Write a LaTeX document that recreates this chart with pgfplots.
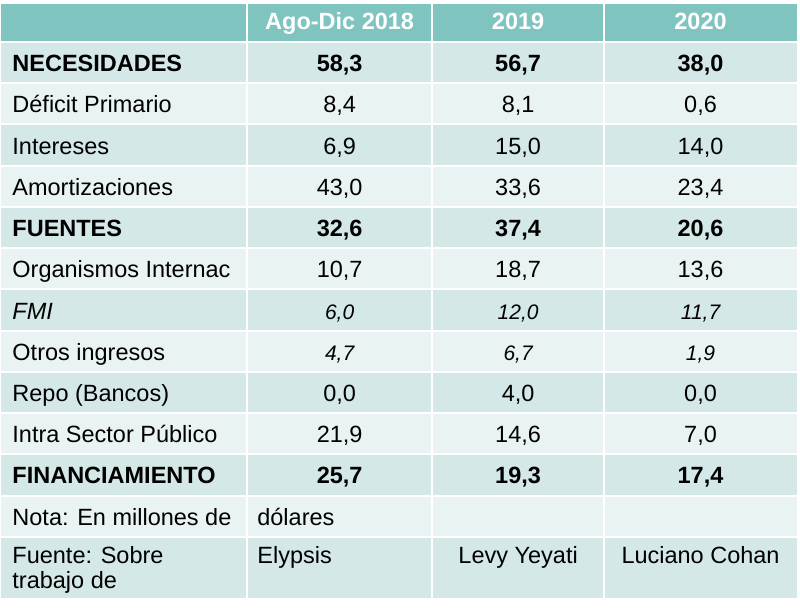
\documentclass[border=0pt]{standalone}
\usepackage{fontspec}
\setmainfont{Liberation Sans}
\usepackage{pgfplots}
\pgfplotsset{compat=1.18}
\definecolor{hdr}{RGB}{128,196,192}
\definecolor{dk}{RGB}{211,232,231}
\definecolor{lt}{RGB}{234,243,243}
\newcommand\fs{\fontsize{23.5bp}{21bp}\selectfont}
\newcommand\fsi{\fontsize{21bp}{21bp}\selectfont\itshape}
\pgfplotsset{
 txt/.style={only marks, mark=none, point meta=explicit symbolic, nodes near coords,
   nodes near coords style={anchor=base west, inner sep=0pt, font=#1, text=black}},
 num/.style={only marks, mark=none, point meta=explicit,
   nodes near coords={\pgfmathprintnumber[fixed,fixed zerofill,precision=1,use comma,assume math mode=true]{\pgfplotspointmeta}},
   nodes near coords style={anchor=base, inner sep=0pt, font=#1, text=black}},
}
\begin{document}
\begin{tikzpicture}
\begin{axis}[x=1bp, y=1bp, y dir=reverse, xmin=0, xmax=800, ymin=0, ymax=611,
  hide axis, clip=false]
% background
\fill[white] (axis cs:0,0) rectangle (axis cs:800,611);
\fill[hdr] (axis cs:1,4) rectangle (axis cs:797,42);
\fill[dk] (axis cs:1,42) rectangle (axis cs:797,83.25);
\fill[lt] (axis cs:1,83.25) rectangle (axis cs:797,124.5);
\fill[dk] (axis cs:1,124.5) rectangle (axis cs:797,165.75);
\fill[lt] (axis cs:1,165.75) rectangle (axis cs:797,207);
\fill[dk] (axis cs:1,207) rectangle (axis cs:797,248.25);
\fill[lt] (axis cs:1,248.25) rectangle (axis cs:797,289.5);
\fill[dk] (axis cs:1,289.5) rectangle (axis cs:797,330.75);
\fill[lt] (axis cs:1,330.75) rectangle (axis cs:797,372);
\fill[dk] (axis cs:1,372) rectangle (axis cs:797,413.25);
\fill[lt] (axis cs:1,413.25) rectangle (axis cs:797,454.5);
\fill[dk] (axis cs:1,454.5) rectangle (axis cs:797,495.75);
\fill[lt] (axis cs:1,495.75) rectangle (axis cs:797,537);
\fill[dk] (axis cs:1,537) rectangle (axis cs:797,598);
% white grid lines
\draw[white, line width=2bp] (axis cs:247,4) -- (axis cs:247,598);
\draw[white, line width=2bp] (axis cs:432,4) -- (axis cs:432,598);
\draw[white, line width=2bp] (axis cs:604,4) -- (axis cs:604,598);
\draw[white, line width=2.5bp] (axis cs:1,42) -- (axis cs:797,42);
\draw[white, line width=2bp] (axis cs:1,83.25) -- (axis cs:797,83.25);
\draw[white, line width=2bp] (axis cs:1,124.5) -- (axis cs:797,124.5);
\draw[white, line width=2bp] (axis cs:1,165.75) -- (axis cs:797,165.75);
\draw[white, line width=2bp] (axis cs:1,207) -- (axis cs:797,207);
\draw[white, line width=2bp] (axis cs:1,248.25) -- (axis cs:797,248.25);
\draw[white, line width=2bp] (axis cs:1,289.5) -- (axis cs:797,289.5);
\draw[white, line width=2bp] (axis cs:1,330.75) -- (axis cs:797,330.75);
\draw[white, line width=2bp] (axis cs:1,372) -- (axis cs:797,372);
\draw[white, line width=2bp] (axis cs:1,413.25) -- (axis cs:797,413.25);
\draw[white, line width=2bp] (axis cs:1,454.5) -- (axis cs:797,454.5);
\draw[white, line width=2bp] (axis cs:1,495.75) -- (axis cs:797,495.75);
\draw[white, line width=2bp] (axis cs:1,537) -- (axis cs:797,537);
% header
\addplot[txt=\fs\bfseries, nodes near coords style={anchor=base, text=white}] coordinates {
 (339.5,30) [Ago-Dic 2018] (518,30) [2019] (700.5,30) [2020]};
% row labels
\addplot[txt=\fs\bfseries] coordinates {
 (12,71.6) [NECESIDADES] (12,236.6) [FUENTES] (12,484.1) [FINANCIAMIENTO]};
\addplot[txt=\fs] coordinates {
 (12,112.9) [Déficit Primario] (12,154.1) [Intereses] (12,195.4) [Amortizaciones]
 (12,277.9) [Organismos Internac] (12,360.4) [Otros ingresos] (12,401.6) [{Repo (Bancos)}]
 (12,442.9) [Intra Sector Público] (12,525.4) [Nota: En millones de]
 (12,564) [Fuente: Sobre] (12,589) [trabajo de]
 (257,525.4) [dólares] (257,564) [Elypsis]};
\addplot[txt=\fs\itshape] coordinates {(12,319.1) [FMI]};
\addplot[txt=\fs, nodes near coords style={anchor=base}] coordinates {
 (518,564) [Levy Yeyati] (700.5,564) [Luciano Cohan]};
% values: bold
\addplot[num=\fs\bfseries] coordinates {
 (339.5,71.6) [58.3] (339.5,236.6) [32.6] (339.5,484.1) [25.7]
 (518,71.6) [56.7] (518,236.6) [37.4] (518,484.1) [19.3]
 (700.5,71.6) [38.0] (700.5,236.6) [20.6] (700.5,484.1) [17.4]};
% values: regular
\addplot[num=\fs] coordinates {
 (339.5,112.9) [8.4] (339.5,154.1) [6.9] (339.5,195.4) [43.0] (339.5,277.9) [10.7] (339.5,401.6) [0.0] (339.5,442.9) [21.9]
 (518,112.9) [8.1] (518,154.1) [15.0] (518,195.4) [33.6] (518,277.9) [18.7] (518,401.6) [4.0] (518,442.9) [14.6]
 (700.5,112.9) [0.6] (700.5,154.1) [14.0] (700.5,195.4) [23.4] (700.5,277.9) [13.6] (700.5,401.6) [0.0] (700.5,442.9) [7.0]};
% values: italic
\addplot[num=\fsi] coordinates {
 (339.5,319.1) [6.0] (339.5,360.4) [4.7]
 (518,319.1) [12.0] (518,360.4) [6.7]
 (700.5,319.1) [11.7] (700.5,360.4) [1.9]};
\end{axis}
\end{tikzpicture}
\end{document}
